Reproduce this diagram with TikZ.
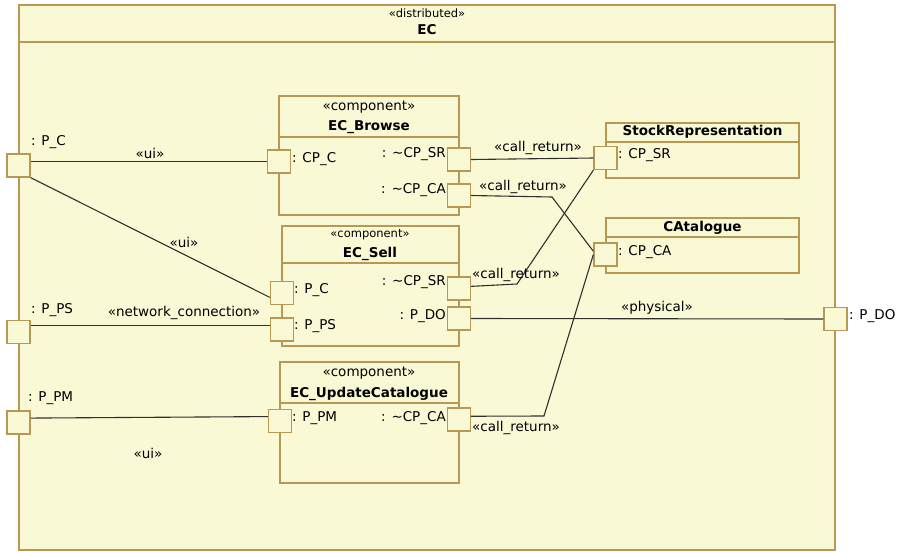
\documentclass[tikz,border=0pt]{standalone}
\usepackage{fontspec}
\setmainfont{DejaVu Sans}
\definecolor{umlfill}{RGB}{249,249,214}
\definecolor{umlborder}{RGB}{184,152,82}
\definecolor{connclr}{RGB}{48,48,48}
\begin{document}
\begin{tikzpicture}[x=1pt,y=-1pt,
  font=\fontsize{13.5}{16}\selectfont,
  box/.style={draw=umlborder, fill=umlfill, line width=1.3pt, inner sep=0pt},
  port/.style={box, minimum width=23pt, minimum height=23pt},
  divider/.style={draw=umlborder, line width=1.3pt},
  conn/.style={draw=connclr, line width=1.1pt},
  txt/.style={inner sep=0pt, text=black},
  ttl/.style={txt, font=\fontsize{13.5}{16}\selectfont\bfseries},
  smalltxt/.style={txt, font=\fontsize{11.5}{14}\selectfont},
]
\useasboundingbox (0,0) rectangle (897,552);

% enclosing distributed component
\node[box, minimum width=816pt, minimum height=545pt] (ec) at (427,277.5) {};
\draw[divider] (ec.west |- 0,42) -- (ec.east |- 0,42);
\node[smalltxt] (ecst) at (427,13) {«distributed»};
\node[ttl] (ectitle) at (427,30) {EC};

% inner components
\node[box, minimum width=180pt, minimum height=119pt] (browse) at (369,155.5) {};
\draw[divider] (browse.west |- 0,137) -- (browse.east |- 0,137);
\node[txt] (browsest) at (369,107) {«component»};
\node[ttl] (browsettl) at (369,127) {EC\_Browse};

\node[box, minimum width=177pt, minimum height=120pt] (sell) at (370.5,286) {};
\draw[divider] (sell.west |- 0,263) -- (sell.east |- 0,263);
\node[smalltxt] (sellst) at (370,235) {«component»};
\node[ttl] (sellttl) at (370,254) {EC\_Sell};

\node[box, minimum width=179pt, minimum height=121pt] (upd) at (369.5,422.5) {};
\draw[divider] (upd.west |- 0,403) -- (upd.east |- 0,403);
\node[txt] (updst) at (369,373) {«component»};
\node[ttl] (updttl) at (369,394) {EC\_UpdateCatalogue};

\node[box, minimum width=193pt, minimum height=55pt] (stock) at (702.5,150.5) {};
\draw[divider] (stock.west |- 0,142) -- (stock.east |- 0,142);
\node[ttl] (stockttl) at (702.5,132) {StockRepresentation};

\node[box, minimum width=193pt, minimum height=55pt] (cat) at (702.5,245.5) {};
\draw[divider] (cat.west |- 0,237) -- (cat.east |- 0,237);
\node[ttl] (catttl) at (702.5,228) {CAtalogue};

% ports
\node[port] (pc)   at (18.5,165.5) {};
\node[port] (pps)  at (18.5,332) {};
\node[port] (ppm)  at (18.5,422.5) {};
\node[port] (pdo)  at (835.5,319) {};
\node[port] (bcpc) at (279,161.5) {};
\node[port] (bsr)  at (459,159.5) {};
\node[port] (bca)  at (459,195.5) {};
\node[port] (spc)  at (282,293) {};
\node[port] (sps)  at (282,329.5) {};
\node[port] (ssr)  at (459,288.5) {};
\node[port] (sdo)  at (459,318.5) {};
\node[port] (upm)  at (280,421) {};
\node[port] (uca)  at (459,419.5) {};
\node[port] (rsr)  at (605.5,158) {};
\node[port] (rca)  at (605.5,254.5) {};

% port labels
\node[txt, anchor=west] (lpc)   at (31,142) {: P\_C};
\node[txt, anchor=west] (lpps)  at (31,310) {: P\_PS};
\node[txt, anchor=west] (lppm)  at (28,398) {: P\_PM};
\node[txt, anchor=west] (lpdo)  at (849,316) {: P\_DO};
\node[txt, anchor=west] (lbcpc) at (292,159) {: CP\_C};
\node[txt, anchor=east] (lbsr)  at (446,154) {: \textasciitilde CP\_SR};
\node[txt, anchor=east] (lbca)  at (446,190) {: \textasciitilde CP\_CA};
\node[txt, anchor=west] (lspc)  at (294,290) {: P\_C};
\node[txt, anchor=west] (lsps)  at (294,326) {: P\_PS};
\node[txt, anchor=east] (lssr)  at (446,282) {: \textasciitilde CP\_SR};
\node[txt, anchor=east] (lsdo)  at (446,316) {: P\_DO};
\node[txt, anchor=west] (lupm)  at (292,418) {: P\_PM};
\node[txt, anchor=east] (luca)  at (446,418) {: \textasciitilde CP\_CA};
\node[txt, anchor=west] (lrsr)  at (618,155) {: CP\_SR};
\node[txt, anchor=west] (lrca)  at (618,252) {: CP\_CA};

% bend points of the assembly connectors
\coordinate (k1) at (552,197);
\coordinate (k2) at (517,284);
\coordinate (k3) at (544,416);

% connectors
\draw[conn] (pc.east |- bcpc) -- (bcpc.west);
\draw[conn] (pc.south east) -- (spc.200);
\draw[conn] (pps.east |- sps.160) -- (sps.160);
\draw[conn] (ppm.20) -- (upm.160);
\draw[conn] (bsr.east) -- (rsr.west);
\draw[conn] (bca.east) -- (k1) -- (rca.165);
\draw[conn] (ssr.10) -- (k2) -- (rsr.south west);
\draw[conn] (sdo.east) -- (pdo.west);
\draw[conn] (uca.15) -- (k3) -- (rca.west);

% connector labels
\node[txt] (c1) at (150,153) {«ui»};
\node[txt] (c2) at (184,242) {«ui»};
\node[txt] (c3) at (184,313) {«network\_connection»};
\node[txt] (c4) at (148,453) {«ui»};
\node[txt] (c5) at (538,148) {«call\_return»};
\node[txt] (c6) at (523,187) {«call\_return»};
\node[txt] (c7) at (516,275) {«call\_return»};
\node[txt] (c8) at (657,308) {«physical»};
\node[txt] (c9) at (516,428) {«call\_return»};
\end{tikzpicture}
\end{document}
